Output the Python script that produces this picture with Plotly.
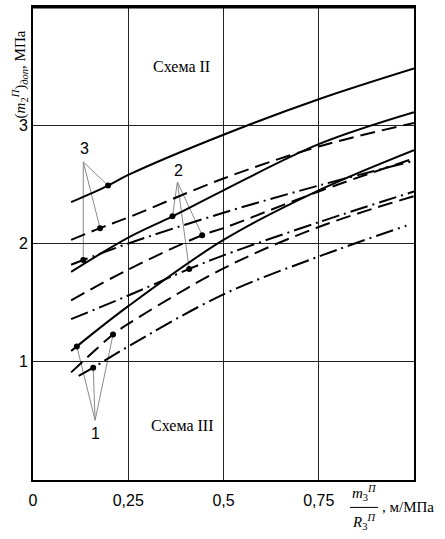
import plotly.graph_objects as go

# --- curve data: x = m3/R3 (м/МПа), y = (m2)доп (МПа) ---
# group 3
x3_solid = [0.10, 0.197, 0.25, 0.50, 0.75, 1.00]
y3_solid = [2.35, 2.49, 2.58, 2.92, 3.22, 3.48]
x3_dash = [0.10, 0.176, 0.25, 0.50, 0.75, 1.00]
y3_dash = [2.03, 2.13, 2.22, 2.55, 2.82, 3.02]
x3_dashdot = [0.10, 0.132, 0.25, 0.50, 0.75, 1.00]
y3_dashdot = [1.82, 1.86, 2.00, 2.26, 2.49, 2.70]
# group 2
x2_solid = [0.10, 0.25, 0.366, 0.50, 0.75, 1.00]
y2_solid = [1.76, 2.05, 2.23, 2.45, 2.84, 3.11]
x2_dash = [0.10, 0.25, 0.444, 0.50, 0.75, 1.00]
y2_dash = [1.52, 1.78, 2.07, 2.13, 2.44, 2.72]
x2_dashdot = [0.10, 0.25, 0.41, 0.50, 0.75, 1.00]
y2_dashdot = [1.36, 1.56, 1.785, 1.90, 2.18, 2.44]
# group 1
x1_solid = [0.10, 0.115, 0.25, 0.50, 0.75, 1.00]
y1_solid = [1.09, 1.13, 1.47, 2.03, 2.45, 2.79]
x1_dash = [0.10, 0.21, 0.25, 0.50, 0.75, 1.00]
y1_dash = [0.91, 1.23, 1.32, 1.79, 2.14, 2.40]
x1_dashdot = [0.12, 0.158, 0.25, 0.50, 0.75, 0.98]
y1_dashdot = [0.88, 0.95, 1.13, 1.57, 1.89, 2.15]

x_tickvals = [0, 0.25, 0.5, 0.75]
x_ticktext = ["0", "0,25", "0,5", "0,75"]
y_tickvals = [1, 2, 3]
y_ticktext = ["1", "2", "3"]

# label text and the apex where its leader lines meet
label_text = ["3", "2", "1"]
label_pos = [(0.134, 2.80), (0.382, 2.62), (0.163, 0.39)]
label_apex = [(0.132, 2.69), (0.379, 2.52), (0.163, 0.505)]

SOLID = "solid"
DASH = "15px,7px"
DASHDOT = "18px,5px,2px,5px"

groups = [
    [(x3_solid, y3_solid, SOLID), (x3_dash, y3_dash, DASH), (x3_dashdot, y3_dashdot, DASHDOT)],
    [(x2_solid, y2_solid, SOLID), (x2_dash, y2_dash, DASH), (x2_dashdot, y2_dashdot, DASHDOT)],
    [(x1_solid, y1_solid, SOLID), (x1_dash, y1_dash, DASH), (x1_dashdot, y1_dashdot, DASHDOT)],
]
# index of the point on each curve that carries a dot and a leader
marked = [[1, 1, 1], [2, 2, 2], [1, 1, 1]]

fig = go.Figure()
SANS = "Liberation Sans, Arial, sans-serif"
SERIF = "Liberation Serif, Times New Roman, serif"

shapes = []
annotations = []
for g, curves in enumerate(groups):
    ax, ay = label_apex[g]
    for c, (xs, ys, dash) in enumerate(curves):
        fig.add_trace(go.Scatter(
            x=xs, y=ys, mode="lines",
            line=dict(color="black", width=2, dash=dash, shape="spline", smoothing=1.0),
            showlegend=False, hoverinfo="skip"))
        i = marked[g][c]
        mx, my = xs[i], ys[i]
        shapes.append(dict(type="line", xref="x", yref="y", x0=ax, y0=ay, x1=mx, y1=my,
                           line=dict(color="#8a8a8a", width=1), layer="below"))
        fig.add_trace(go.Scatter(
            x=[mx], y=[my], mode="markers",
            marker=dict(color="black", size=6), showlegend=False, hoverinfo="skip"))
    lx, ly = label_pos[g]
    annotations.append(dict(x=lx, y=ly, xref="x", yref="y", text=label_text[g], showarrow=False,
                            font=dict(family=SANS, size=16, color="black")))

# region captions
annotations.append(dict(x=0.39, y=3.50, xref="x", yref="y", text="Схема II", showarrow=False,
                        font=dict(family=SERIF, size=16, color="black")))
annotations.append(dict(x=0.39, y=0.46, xref="x", yref="y", text="Схема III", showarrow=False,
                        font=dict(family=SERIF, size=16, color="black")))

# y-axis title
annotations.append(dict(x=-0.034, y=3.43, xref="paper", yref="y", textangle=-90,
                        text="(<i>m</i><sub>2</sub><sup><i>П</i></sup>)<sub><i>доп</i></sub>, МПа",
                        showarrow=False, xanchor="center", yanchor="middle",
                        font=dict(family=SERIF, size=15, color="black")))

# x-axis title as a fraction m3/R3, м/МПа
FRAC_X = 0.869
annotations.append(dict(x=FRAC_X, y=-0.028, xref="paper", yref="paper",
                        text="<i>m</i><sub>3</sub><sup><i>П</i></sup>", showarrow=False,
                        xanchor="center", yanchor="middle",
                        font=dict(family=SERIF, size=15, color="black")))
annotations.append(dict(x=FRAC_X, y=-0.088, xref="paper", yref="paper",
                        text="<i>R</i><sub>3</sub><sup><i>П</i></sup>", showarrow=False,
                        xanchor="center", yanchor="middle",
                        font=dict(family=SERIF, size=15, color="black")))
annotations.append(dict(x=0.910, y=-0.058, xref="paper", yref="paper",
                        text=", м/МПа", showarrow=False, xanchor="left", yanchor="middle",
                        font=dict(family=SERIF, size=15, color="black")))
shapes.append(dict(type="line", xref="paper", yref="paper", x0=0.832, x1=0.906,
                   y0=-0.058, y1=-0.058, line=dict(color="black", width=1)))

# heavier top edge of the frame
shapes.append(dict(type="line", xref="paper", yref="paper", x0=0, x1=1, y0=1, y1=1,
                   line=dict(color="black", width=3)))

fig.update_layout(
    width=445, height=539,
    margin=dict(l=33, r=31, t=5, b=59),
    paper_bgcolor="white", plot_bgcolor="white",
    shapes=shapes, annotations=annotations,
    xaxis=dict(range=[0, 1], tickvals=x_tickvals, ticktext=x_ticktext,
               showgrid=True, gridcolor="#222", gridwidth=1.2,
               showline=True, linecolor="black", linewidth=1.6, mirror=True,
               ticks="outside", ticklen=5, tickcolor="rgba(0,0,0,0)",
               tickfont=dict(family=SANS, size=16, color="black"), zeroline=False),
    yaxis=dict(range=[0, 4], tickvals=y_tickvals, ticktext=y_ticktext,
               showgrid=True, gridcolor="#222", gridwidth=1.2,
               showline=True, linecolor="black", linewidth=1.6, mirror=True,
               tickfont=dict(family=SANS, size=16, color="black"), zeroline=False),
)

fig.write_html("out.html")
